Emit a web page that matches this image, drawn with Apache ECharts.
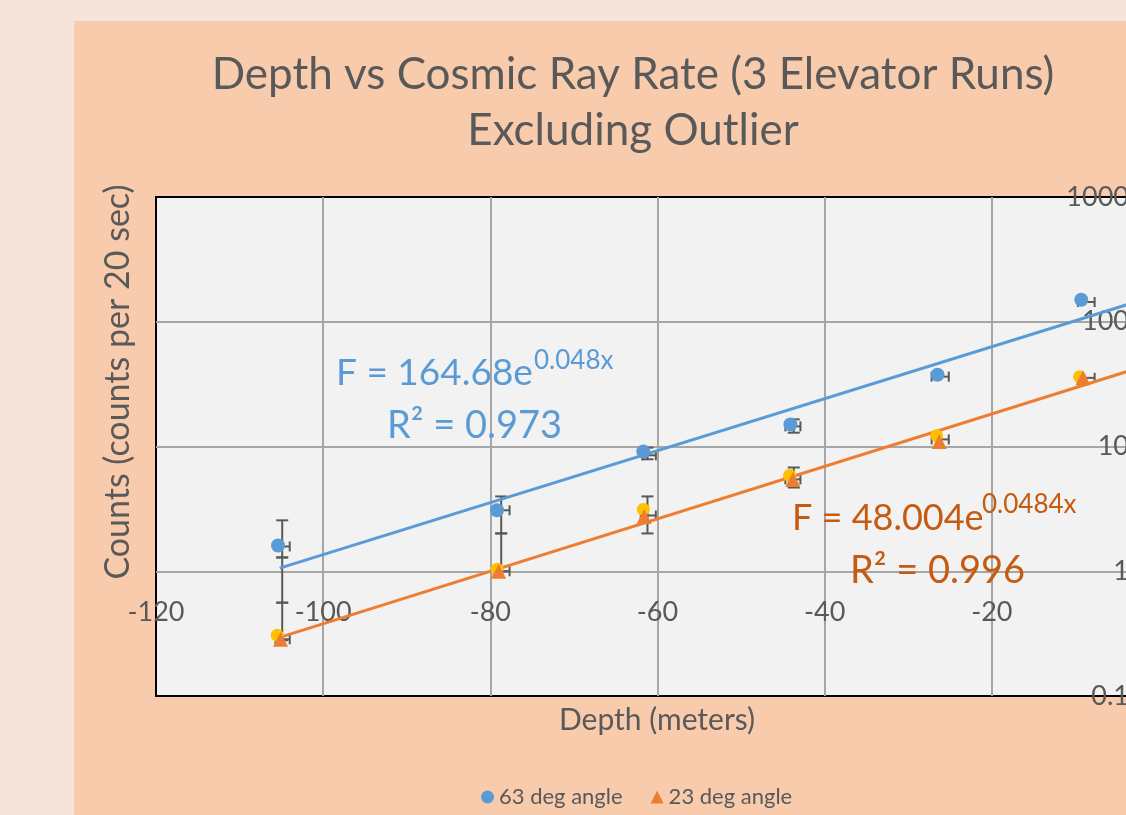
<!DOCTYPE html>
<html><head><meta charset="utf-8">
<script src="https://cdn.jsdelivr.net/npm/echarts@6/dist/echarts.min.js"></script>
<style>
html,body{margin:0;padding:0;width:1126px;height:815px;overflow:hidden;background:#F5E4DA;}
#c{position:absolute;left:74px;top:21px;width:1200px;height:794px;background:#F8CBAD;}
</style></head><body><div id="c"></div>
<script>
// ---- data ----
const depth63 = [-105.4, -79.2, -61.7, -44.1, -26.5, -9.3];
const rate63  = [1.61, 3.08, 9.12, 15.0, 37.6, 150];
const depth23 = [-105.1, -79.0, -61.6, -43.8, -26.3, -9.1];
const rate23  = [0.285, 1.0, 2.75, 5.45, 10.96, 35.5];
const depthRun3 = [-105.5, -79.2, -61.7, -44.2, -26.6, -9.5];
const rateRun3  = [0.307, 1.04, 3.13, 5.86, 12.2, 36.3];
// trend lines (exponential fits = straight on log axis): [depth, rate]
const trend63 = [[-105.2, 1.06], [0, 164.68]];
const trend23 = [[-105.2, 0.295], [0, 48.004]];
// vertical error bars: [depth, low, high]
const errV = [
  [-104.9, 1.29, 2.56], [-104.9, 0.56, 1.29], [-104.9, 0.28, 0.56],
  [-78.7, 2.01, 3.98], [-78.7, 1.0, 2.01],
  [-61.2, 7.9, 9.8], [-61.2, 2.01, 3.98],
  [-43.7, 12.9, 16.5], [-43.7, 4.69, 6.79]
];
// horizontal error bars: [depthLow, depthHigh, rate]
const errH = [
  [-105.7, -104.0, 1.58], [-105.7, -104.0, 0.285],
  [-79.2, -77.7, 3.08], [-79.6, -77.7, 1.0],
  [-61.8, -60.2, 8.5], [-62.0, -60.2, 2.8],
  [-44.7, -42.9, 14.5], [-44.7, -42.9, 5.45],
  [-27.2, -25.15, 36.3], [-27.2, -25.15, 11.4],
  [-9.7, -7.7, 144], [-9.7, -7.7, 35.5]
];
const xTicks = [-120, -100, -80, -60, -40, -20, 0];
const yTickLabels = {'0.1':'0.1','1':'1','10':'10','100':'100','1000':'1000'};
const seriesNames = ['63 deg angle', '23 deg angle'];
const titleLines = ['Depth vs Cosmic Ray Rate (3 Elevator Runs)', 'Excluding Outlier'];
const eq63 = ['F = 164.68e', '0.048x', 'R² = 0.973'];
const eq23 = ['F = 48.004e', '0.0484x', 'R² = 0.996'];

const FONT = 'Lato, "Open Sans", sans-serif';
const GRAY = '#595959';
const chart = echarts.init(document.getElementById('c'));

function zip(a, b) { return a.map((v, i) => [v, b[i]]); }

const errStyle = {stroke: '#595959', lineWidth: 2};
function vErr(params, api) {
  const x = api.value(0), lo = api.value(1), hi = api.value(2);
  const p1 = api.coord([x, lo]), p2 = api.coord([x, hi]);
  const c = 6;
  return {type: 'group', children: [
    {type: 'line', shape: {x1: p1[0], y1: p1[1], x2: p2[0], y2: p2[1]}, style: errStyle},
    {type: 'line', shape: {x1: p1[0]-c, y1: p1[1], x2: p1[0]+c, y2: p1[1]}, style: errStyle},
    {type: 'line', shape: {x1: p2[0]-c, y1: p2[1], x2: p2[0]+c, y2: p2[1]}, style: errStyle}
  ]};
}
function hErr(params, api) {
  const x1 = api.value(0), x2 = api.value(1), y = api.value(2);
  const p1 = api.coord([x1, y]), p2 = api.coord([x2, y]);
  const c = 5;
  return {type: 'group', children: [
    {type: 'line', shape: {x1: p1[0], y1: p1[1], x2: p2[0], y2: p2[1]}, style: errStyle},
    {type: 'line', shape: {x1: p1[0], y1: p1[1]-c, x2: p1[0], y2: p1[1]+c}, style: errStyle},
    {type: 'line', shape: {x1: p2[0], y1: p2[1]-c, x2: p2[0], y2: p2[1]+c}, style: errStyle}
  ]};
}

const option = {
  animation: false,
  grid: {left: 82, top: 176, width: 1003, height: 499, show: true,
         backgroundColor: '#F2F2F2', borderColor: '#000', borderWidth: 2},
  xAxis: {
    type: 'value', min: xTicks[0], max: xTicks[xTicks.length-1], interval: 20,
    position: 'bottom', offset: -124,
    axisLine: {show: false}, axisTick: {show: false},
    axisLabel: {margin: 27, fontSize: 27, color: GRAY, fontFamily: FONT},
    splitLine: {show: true, showMinLine: false, showMaxLine: false, lineStyle: {color: '#A6A6A6', width: 2}}
  },
  yAxis: {
    type: 'log', logBase: 10, min: 0.1, max: 1000, position: 'right',
    axisLine: {show: false}, axisTick: {show: false},
    axisLabel: {inside: true, margin: 30, fontSize: 27, color: GRAY, fontFamily: FONT,
      formatter: v => yTickLabels[String(+v.toPrecision(3))] || String(v)},
    splitLine: {show: true, showMinLine: false, showMaxLine: false, lineStyle: {color: '#A6A6A6', width: 2}}
  },
  legend: {
    data: [{name: seriesNames[0], icon: 'circle'}, {name: seriesNames[1], icon: 'triangle'}],
    left: 402, top: 760, itemWidth: 13, itemHeight: 13, itemGap: 28,
    textStyle: {fontSize: 22, color: GRAY, fontFamily: FONT}
  },
  series: [
    {type: 'custom', name: 'errV', renderItem: vErr, data: errV, encode: {x: 0, y: [1, 2]}, z: 2, silent: true},
    {type: 'custom', name: 'errH', renderItem: hErr, data: errH, encode: {x: [0, 1], y: 2}, z: 2, silent: true},
    {type: 'line', name: 'trend63', data: trend63, symbol: 'none', z: 3,
     lineStyle: {color: '#5B9BD5', width: 3}},
    {type: 'line', name: 'trend23', data: trend23, symbol: 'none', z: 3,
     lineStyle: {color: '#ED7D31', width: 3}},
    {type: 'scatter', name: seriesNames[0], data: zip(depth63, rate63), symbol: 'circle', symbolSize: 14, z: 4,
     itemStyle: {color: '#5B9BD5', opacity: 1}},
    {type: 'scatter', name: 'run3', data: zip(depthRun3, rateRun3), symbol: 'circle', symbolSize: 13, z: 4,
     itemStyle: {color: '#FFC000', opacity: 1}},
    {type: 'scatter', name: seriesNames[1], data: zip(depth23, rate23), symbol: 'triangle', symbolSize: 15, z: 5,
     itemStyle: {color: '#ED7D31', opacity: 1}}
  ],
  graphic: [
    {type: 'text', x: 559, y: 54, style: {text: titleLines[0], fill: GRAY, font: '44px ' + FONT, textAlign: 'center', textVerticalAlign: 'middle'}},
    {type: 'text', x: 559, y: 110, style: {text: titleLines[1], fill: GRAY, font: '44px ' + FONT, textAlign: 'center', textVerticalAlign: 'middle'}},
    {type: 'text', x: 44, y: 361, rotation: Math.PI/2, style: {text: 'Counts (counts per 20 sec)', fill: GRAY, font: '34px ' + FONT, textAlign: 'center', textVerticalAlign: 'middle'}},
    {type: 'text', x: 583, y: 699, style: {text: 'Depth (meters)', fill: GRAY, font: '30px ' + FONT, textAlign: 'center', textVerticalAlign: 'middle'}},
    {type: 'text', x: 262, y: 352, z: 10, style: {text: eq63[0], fill: '#5B9BD5', font: '37px ' + FONT, textAlign: 'left', textVerticalAlign: 'middle'}},
    {type: 'text', x: 460, y: 340, z: 10, style: {text: eq63[1], fill: '#5B9BD5', font: '26px ' + FONT, textAlign: 'left', textVerticalAlign: 'middle'}},
    {type: 'text', x: 313, y: 405, z: 10, style: {text: eq63[2], fill: '#5B9BD5', font: '38px ' + FONT, textAlign: 'left', textVerticalAlign: 'middle'}},
    {type: 'text', x: 718, y: 497, z: 10, style: {text: eq23[0], fill: '#C55A11', font: '36px ' + FONT, textAlign: 'left', textVerticalAlign: 'middle'}},
    {type: 'text', x: 908, y: 484, z: 10, style: {text: eq23[1], fill: '#C55A11', font: '26px ' + FONT, textAlign: 'left', textVerticalAlign: 'middle'}},
    {type: 'text', x: 776, y: 550, z: 10, style: {text: eq23[2], fill: '#C55A11', font: '38px ' + FONT, textAlign: 'left', textVerticalAlign: 'middle'}}
  ]
};
chart.setOption(option);
</script></body></html>
